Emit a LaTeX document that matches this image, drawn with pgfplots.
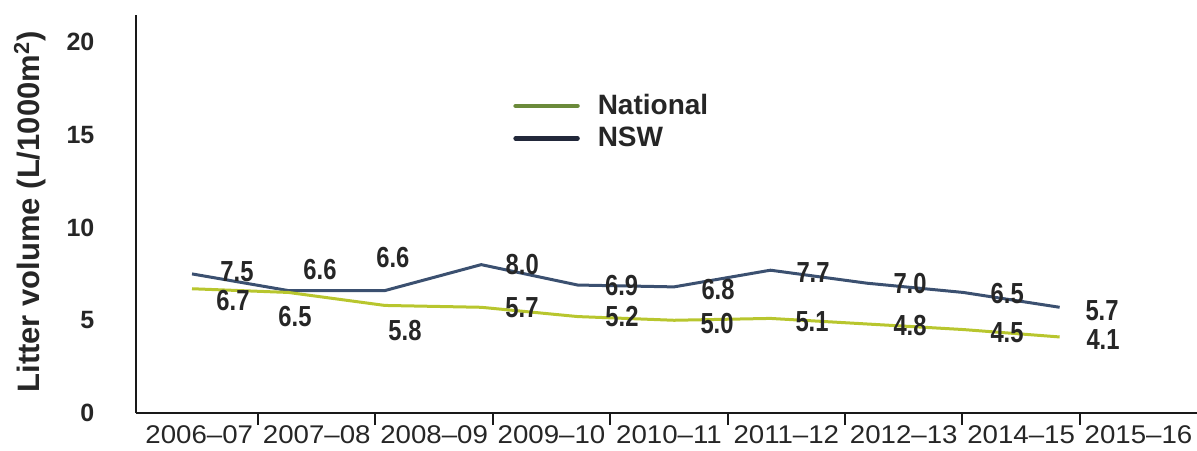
\documentclass[border=0pt]{standalone}
\usepackage{fontspec}
\setmainfont{Liberation Sans}
\newfontfamily\xfont{Liberation Sans}[FakeStretch=1.08]
\newfontfamily\lfont{Liberation Sans}[FakeStretch=0.82]
\usepackage{pgfplots}
\pgfplotsset{compat=1.18}
\usepackage{pgfplotstable}
\definecolor{nswc}{HTML}{3B5070}
\definecolor{natc}{HTML}{B8C62E}
\definecolor{nswleg}{HTML}{22283A}
\definecolor{natleg}{HTML}{6B8A3A}

% x = period index, y = litter volume, dx/dy = label offset (pt)
\pgfplotstableread{
x y dx dy
0 7.5 22.5 1
1 6.6 15.8 10.3
2 6.6 4 16.3
3 8.0 20.5 0
4 6.9 22 0
5 6.8 22 -1.5
6 7.7 21.3 -1
7 7.0 21.6 0
8 6.5 22 -0.3
9 5.7 21.2 -1.5
}\nsw

\pgfplotstableread{
x y dx dy
0 6.7 20.5 -5.7
1 6.5 3.3 -11.8
2 5.8 10.1 -12.3
3 5.7 20.4 -0.3
4 5.2 22.2 0.2
5 5.0 21.5 -1.4
6 5.1 20.8 -1.8
7 4.8 21.6 -1
8 4.5 21.9 -1.8
9 4.1 21.7 -1.5
}\nat

\begin{document}
\begin{tikzpicture}
\path[use as bounding box] (-68pt,-18.5pt) rectangle (530.5pt,206.5pt);
\begin{axis}[
 at={(0,0)}, anchor=south west,
 scale only axis, width=530.5pt, height=199pt,
 xmin=-0.581, xmax=10.425, ymin=0, ymax=21.46,
 axis lines=left, axis line style={-, line width=1.1pt, black!90},
 xtick={0.0757,1.2935,2.5114,3.7292,4.9471,6.1649,7.3828,8.6006,9.8184},
 xticklabels={2006–07,2007–08,2008–09,2009–10,2010–11,2011–12,2012–13,2014–15,2015–16},
 minor xtick={0.6846,1.9025,3.1203,4.3382,5.5560,6.7739,7.9917,9.2095},
 major tick length=0pt, minor tick length=6pt, tick align=outside,
 minor tick style={line width=1pt, black!90},
 ytick={0,5,10,15,20},
 /pgf/number format/assume math mode=true,
 yticklabel style={font=\bfseries\fontsize{12.5}{14}\selectfont, xshift=-17.3pt, text=black!85},
 xticklabel style={font=\xfont\fontsize{12.8}{14}\selectfont, yshift=-3pt, text=black!85},
 ylabel={Litter volume (L/1000m\textsuperscript{2})},
 ylabel style={font=\bfseries\fontsize{15.5}{17}\selectfont, at={(axis description cs:-0.1,0.505)}, anchor=center, text=black!85},
 legend image code/.code={\draw[#1] (0pt,0pt) -- (31pt,0pt);},
 legend style={draw=none, fill=none, at={(axis description cs:0.3553,0.812)}, anchor=north west,
   font=\bfseries\fontsize{14}{16}\selectfont, row sep=0.8pt, inner sep=0pt,
   nodes={inner sep=2pt, text=black!85},
   /tikz/every odd column/.append style={column sep=7pt}},
 legend cell align=left,
 nodes near coords align={center},
]
\addlegendimage{natleg, line width=2.2pt, line cap=round}
\addlegendentry{National}
\addlegendimage{nswleg, line width=2.2pt, line cap=round}
\addlegendentry{NSW}

\addplot[nswc, line width=1.5pt, forget plot, mark=none,
  point meta=y,
  visualization depends on={\thisrow{dx} \as \dx},
  visualization depends on={\thisrow{dy} \as \dy},
  nodes near coords={\pgfmathprintnumber[fixed,fixed zerofill,precision=1]{\pgfplotspointmeta}},
  every node near coord/.append style={anchor=center, xshift=\dx pt, yshift=\dy pt,
     font=\lfont\bfseries\fontsize{14.5}{16}\selectfont, text=black!85}]
  table[x=x,y=y] {\nsw};

\addplot[natc, line width=1.5pt, forget plot, mark=none,
  point meta=y,
  visualization depends on={\thisrow{dx} \as \dx},
  visualization depends on={\thisrow{dy} \as \dy},
  nodes near coords={\pgfmathprintnumber[fixed,fixed zerofill,precision=1]{\pgfplotspointmeta}},
  every node near coord/.append style={anchor=center, xshift=\dx pt, yshift=\dy pt,
     font=\lfont\bfseries\fontsize{14.5}{16}\selectfont, text=black!85}]
  table[x=x,y=y] {\nat};
\end{axis}
\end{tikzpicture}
\end{document}
